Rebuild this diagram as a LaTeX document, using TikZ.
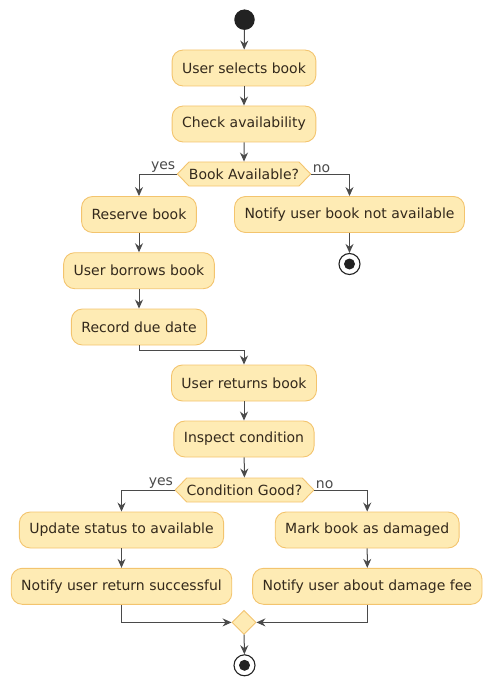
\documentclass[tikz,border=0pt]{standalone}
\usepackage{fontspec}
\setmainfont{DejaVu Sans}
\usepackage{tikz}
\usetikzlibrary{arrows.meta, shapes.symbols, shapes.geometric, positioning}
\usepackage{xcolor}
\definecolor{actfill}{HTML}{FEEBB4}
\definecolor{actline}{HTML}{F3C46E}
\definecolor{ink}{HTML}{4A4A4A}
\definecolor{txt}{HTML}{33291C}
\definecolor{dot}{HTML}{222222}

\begin{document}
\begin{tikzpicture}[x=1pt, y=-1pt]
\tikzset{
    act/.style={rectangle, rounded corners=11pt, draw=actline, fill=actfill, line width=0.9pt,
        minimum height=36pt, inner xsep=10pt, text=txt, font=\fontsize{14}{16}\selectfont},
    choice/.style={signal, signal to=west and east, signal pointer angle=92, draw=actline,
        fill=actfill, line width=0.9pt, minimum height=24pt, inner xsep=0pt, inner ysep=0pt,
        text=txt, font=\fontsize{14}{16}\selectfont},
    merge/.style={diamond, draw=actline, fill=actfill, line width=0.9pt, minimum size=24pt, inner sep=0pt},
    startdot/.style={circle, fill=dot, minimum size=20.5pt, inner sep=0pt},
    stopdot/.style={circle, draw=dot, line width=1.1pt, fill=white, minimum size=21pt, inner sep=0pt,
        path picture={\fill[dot] (path picture bounding box.center) circle (5.5pt);}},
    flow/.style={draw=ink, line width=1pt, -{Stealth[length=9pt, width=8pt, inset=3pt]}},
    guard/.style={text=ink, inner sep=1pt, font=\fontsize{14}{16}\selectfont}
}
\useasboundingbox (0,0) rectangle (493,687);

% Activities
\node[startdot] (start) at (244.5,19.7) {};
\node[act] (select) at (244,68) {User selects book};
\node[act] (check) at (244,124) {Check availability};
\node[choice] (avail) at (244,174) {Book Available?};
\node[act] (reserve) at (139,214.5) {Reserve book};
\node[act] (notavail) at (349.5,214.5) {Notify user book not available};
\node[stopdot] (stopa) at (349.5,264) {};
\node[act] (borrow) at (139,270.7) {User borrows book};
\node[act] (record) at (139,327) {Record due date};
\node[act] (returns) at (244,383) {User returns book};
\node[act] (inspect) at (244,439) {Inspect condition};
\node[choice] (good) at (244.5,490) {Condition Good?};
\node[act] (update) at (121.5,530) {Update status to available};
\node[act] (damaged) at (367.2,530) {Mark book as damaged};
\node[act] (success) at (121.5,586.3) {Notify user return successful};
\node[act] (fee) at (367.3,586.3) {Notify user about damage fee};
\node[merge] (join) at (244,622.4) {};
\node[stopdot] (stopb) at (244.5,665.3) {};

% Flows
\draw[flow] (start) -- (select);
\draw[flow] (select) -- (check);
\draw[flow] (check) -- (avail);
\draw[flow] (avail.west) -| (reserve.north) node[pos=0,guard,anchor=south east]{yes};
\draw[flow] (avail.east) -| (notavail.north) node[pos=0,guard,anchor=south west]{no};
\draw[flow] (notavail) -- (stopa);
\draw[flow] (reserve) -- (borrow);
\draw[flow] (borrow) -- (record);
\draw[flow] (record.south) -- ++(0,5) -| (returns.north);
\draw[flow] (returns) -- (inspect);
\draw[flow] (inspect) -- (good);
\draw[flow] (good.west) -| (update.north) node[pos=0,guard,anchor=south east]{yes};
\draw[flow] (good.east) -| (damaged.north) node[pos=0,guard,anchor=south west]{no};
\draw[flow] (update) -- (success);
\draw[flow] (damaged) -- (fee);
\draw[flow] (success.south) |- (join.west);
\draw[flow] (fee.south) |- (join.east);
\draw[flow] (join) -- (stopb);

\end{tikzpicture}
\end{document}
